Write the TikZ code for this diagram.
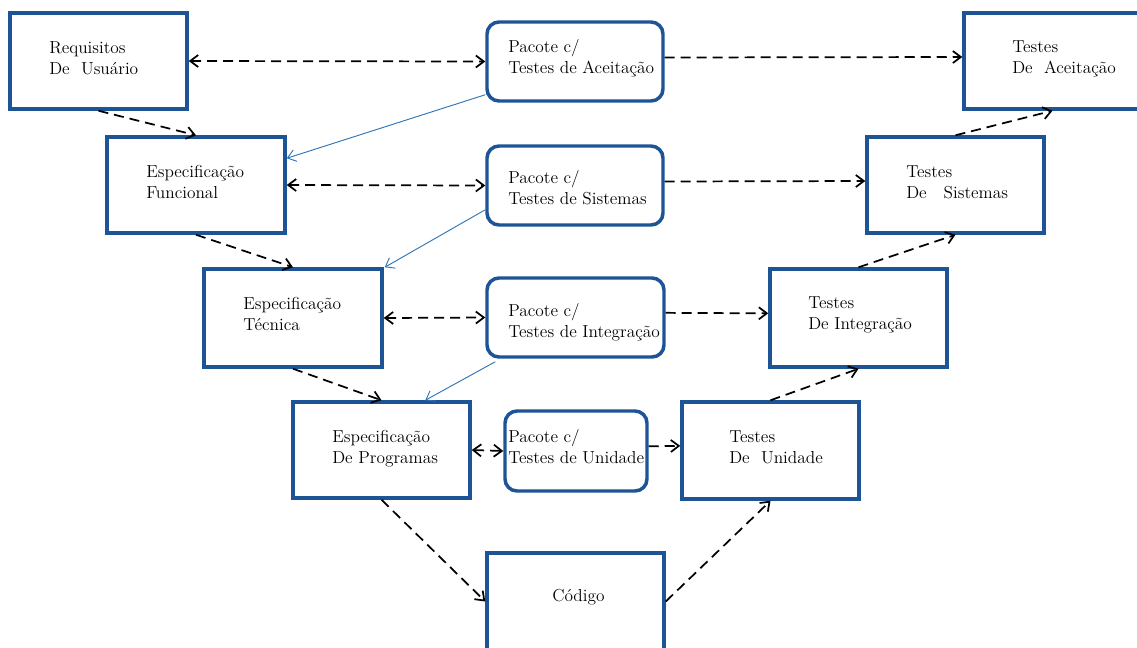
\documentclass[tikz,border=0pt]{standalone}
\usetikzlibrary{arrows.meta,fit,calc}
\definecolor{boxblue}{RGB}{28,84,150}
\definecolor{linkblue}{RGB}{46,117,182}
\begin{document}
\begin{tikzpicture}[x=0.75pt,y=-0.75pt,
  box/.style={draw=boxblue,line width=2.6pt,inner sep=0pt,fill=white},
  pack/.style={box,rounded corners=9pt},
  lbl/.style={anchor=base west,inner sep=0pt,font=\fontsize{13}{15.75}\selectfont},
  barb/.tip={Straight Barb[length=6pt,width=9pt,line width=1.3pt]},
  flow/.style={draw=black,line width=1.3pt,dash pattern=on 7.5pt off 4.5pt,-barb},
  both/.style={flow,barb-barb},
  link/.style={draw=linkblue,line width=0.7pt,-{Straight Barb[length=6pt,width=9pt,line width=0.7pt]}}]
\path[use as bounding box] (0,0) rectangle (1137,647);
\clip (0,0) rectangle (1137,647);

% left leg: specification boxes
\node[box,fit={(10,13)(187,109)}] (req) {};
\node[box,fit={(107,137)(285,233)}] (ef) {};
\node[box,fit={(204,269)(382,367)}] (et) {};
\node[box,fit={(293,402)(470,498)}] (ep) {};
% bottom
\node[box,fit={(487,553)(664,650)}] (cod) {};
% right leg: test boxes
\node[box,fit={(682,402)(859,499)}] (tu) {};
\node[box,fit={(770,269)(947,367)}] (ti) {};
\node[box,fit={(867,137)(1044,233)}] (ts) {};
\node[box,fit={(964,13)(1141,109)}] (ta) {};
% test packages in the middle
\node[pack,fit={(487,22)(663,101)}] (pa) {};
\node[pack,fit={(487,146)(663,225)}] (ps) {};
\node[pack,fit={(487,278)(664,357)}] (pi) {};
\node[pack,fit={(505,411)(647,491)}] (pu) {};

% labels
\node[lbl] (req-t) at (49,53) {\begin{tabular}[t]{@{}l@{}}Requisitos\\De\ \ Usu\'ario\end{tabular}};
\node[lbl] (ef-t) at (146,177) {\begin{tabular}[t]{@{}l@{}}Especifica\c{c}\~ao\\Funcional\end{tabular}};
\node[lbl] (et-t) at (243,309) {\begin{tabular}[t]{@{}l@{}}Especifica\c{c}\~ao\\T\'ecnica\end{tabular}};
\node[lbl] (ep-t) at (332,442) {\begin{tabular}[t]{@{}l@{}}Especifica\c{c}\~ao\\De Programas\end{tabular}};
\node[lbl] (cod-t) at (552,601) {C\'odigo};
\node[lbl] (tu-t) at (729,442) {\begin{tabular}[t]{@{}l@{}}Testes\\De\ \ Unidade\end{tabular}};
\node[lbl] (ti-t) at (808,308) {\begin{tabular}[t]{@{}l@{}}Testes\\De Integra\c{c}\~ao\end{tabular}};
\node[lbl] (ts-t) at (906,177) {\begin{tabular}[t]{@{}l@{}}Testes\\De\ \ \ Sistemas\end{tabular}};
\node[lbl] (ta-t) at (1012,52) {\begin{tabular}[t]{@{}l@{}}Testes\\De\ \ Aceita\c{c}\~ao\end{tabular}};
\node[lbl] (pa-t) at (508,52) {\begin{tabular}[t]{@{}l@{}}Pacote c/\\Testes de Aceita\c{c}\~ao\end{tabular}};
\node[lbl] (ps-t) at (508,183) {\begin{tabular}[t]{@{}l@{}}Pacote c/\\Testes de Sistemas\end{tabular}};
\node[lbl] (pi-t) at (508,316) {\begin{tabular}[t]{@{}l@{}}Pacote c/\\Testes de Integra\c{c}\~ao\end{tabular}};
\node[lbl] (pu-t) at (508,442) {\begin{tabular}[t]{@{}l@{}}Pacote c/\\Testes de Unidade\end{tabular}};

% down the left leg
\draw[flow] (req.south) -- (ef.north);
\draw[flow] (ef.south) -- (et.north);
\draw[flow] (et.south) -- (ep.north);
\draw[flow] (ep.south) -- (cod.west);
% up the right leg
\draw[flow] (cod.east) -- (tu.south);
\draw[flow] (tu.north) -- (ti.south);
\draw[flow] (ti.north) -- (ts.south);
\draw[flow] (ts.north) -- (ta.south);

% specifications <-> test packages
\draw[both] (req.east) -- (pa.west);
\draw[both] (ef.east) -- (ps.west);
\draw[both] (et.east) -- (pi.west);
\draw[both] (ep.east) -- (pu.west);

% test packages -> test levels
\draw[flow] ([yshift=3pt]pa.east) -- ([yshift=3pt]ta.west);
\draw[flow] ([yshift=3pt]ps.east) -- ([yshift=3pt]ts.west);
\draw[flow] ([yshift=3.5pt]pi.east) -- ([yshift=3.5pt]ti.west);
\draw[flow] ([yshift=3.5pt]pu.east) -- ([yshift=3.5pt]tu.west);

% packages feeding the next specification level
\draw[link] ($(pa.south west)+(0,-8)$) -- ($(ef.north east)+(0,23)$);
\draw[link] ($(ps.south west)+(0,-17)$) -- ($(et.north east)+(1,0)$);
\draw[link] ($(pi.south west)+(10,3)$) -- ($(ep.north west)+(134,0)$);
\end{tikzpicture}
\end{document}
